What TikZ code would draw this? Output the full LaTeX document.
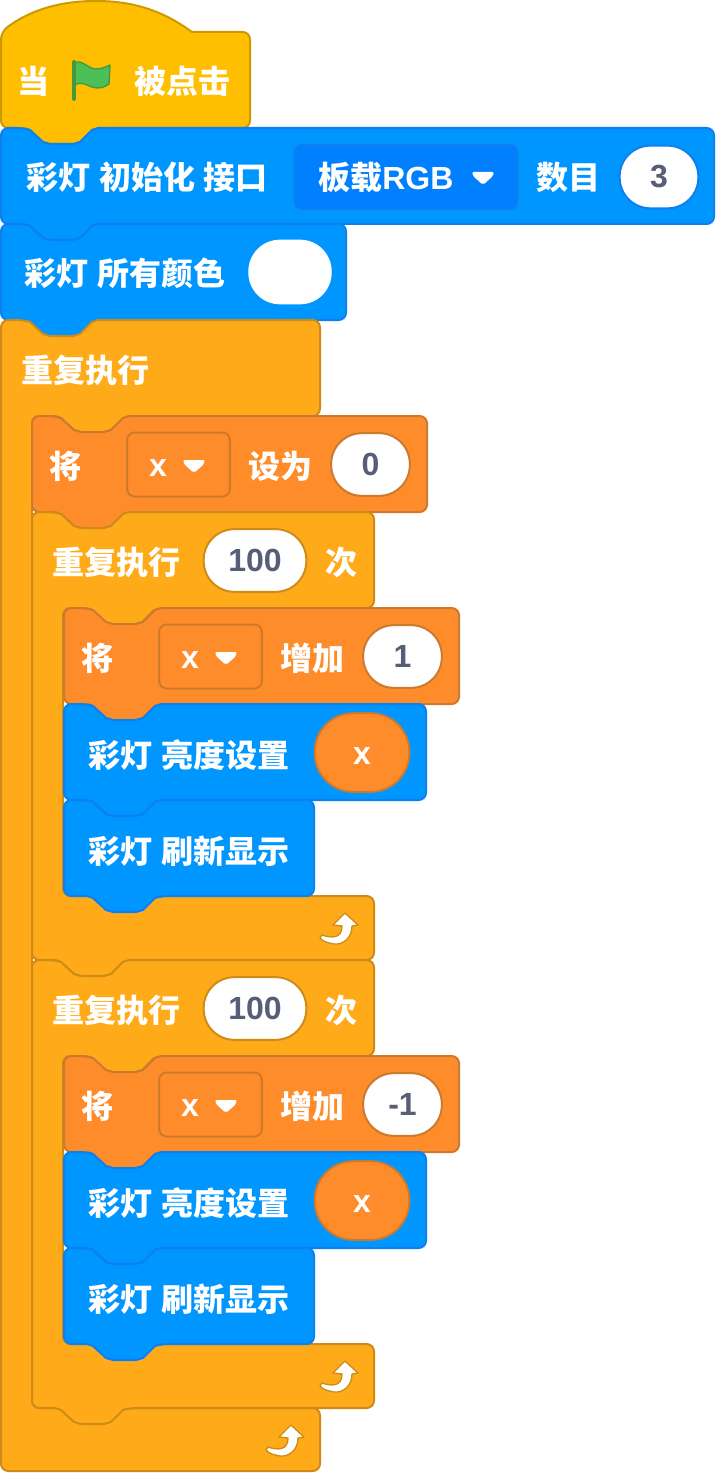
\documentclass[tikz,border=0pt]{standalone}
\usepackage{fontspec}
\usepackage{xcolor}
\setmainfont{Liberation Sans}
\newfontfamily\cjkfont{Noto Sans CJK SC}[WordSpace=1.2]
\newcommand{\lat}[1]{{\rmfamily #1}}
\definecolor{hatfill}{HTML}{FFBF00}
\definecolor{hatline}{HTML}{CC9900}
\definecolor{ledfill}{HTML}{0096FF}
\definecolor{ledline}{HTML}{0E7FEE}
\definecolor{ledmenu}{HTML}{0080FF}
\definecolor{varfill}{HTML}{FF8C2B}
\definecolor{varline}{HTML}{CC7A2E}
\definecolor{loopfill}{HTML}{FFAB19}
\definecolor{loopline}{HTML}{CF8B17}
\definecolor{numtext}{HTML}{575E75}
\definecolor{flagfill}{HTML}{4CBF56}
\definecolor{flagline}{HTML}{45993D}
\tikzset{
    blockshape/.style={line width=1.5pt, rounded corners=5.5pt},
    hatblock/.style={blockshape, fill=hatfill, draw=hatline},
    ledblock/.style={blockshape, fill=ledfill, draw=ledline},
    varblock/.style={blockshape, fill=varfill, draw=varline},
    loopblock/.style={blockshape, fill=loopfill, draw=loopline},
    label/.style={anchor=base west, inner sep=0pt, text=white, font=\fontsize{24}{28}\selectfont\bfseries\cjkfont},
    letter/.style={anchor=base, inner sep=0pt, text=white, font=\fontsize{24}{28}\selectfont\bfseries},
    pill/.style={draw, fill=white, line width=1.5pt, inner sep=0pt, text=numtext, minimum width=59pt, minimum height=47pt, rounded corners=23pt, font=\fontsize{24}{28}\selectfont\bfseries},
    reporter/.style={pill, draw=varline, fill=varfill, text=white, minimum width=71pt, minimum height=59pt, rounded corners=29pt},
    varmenu/.style={draw=varline, line width=1.5pt, fill=varfill, inner sep=0pt, minimum width=77pt, minimum height=48pt, rounded corners=5.5pt},
}
% top edge of a block with the notch cut in
\newcommand{\notchedge}[3]{(#1,#2) -- (#1+23,#2) [sharp corners] -- (#1+29,#2+2) -- (#1+42,#2+14) -- (#1+49,#2+16) -- (#1+72,#2+16) -- (#1+79,#2+14) -- (#1+91,#2+2) -- (#1+97,#2) [rounded corners=5.5pt] -- (#3,#2)}
% bottom edge of a block with the tab sticking out
\newcommand{\tabedge}[3]{(#3,#2) -- (#1+97,#2) [sharp corners] -- (#1+91,#2+2) -- (#1+79,#2+14) -- (#1+72,#2+16) -- (#1+49,#2+16) -- (#1+42,#2+14) -- (#1+29,#2+2) -- (#1+23,#2) [rounded corners=5.5pt] -- (#1,#2)}
% style, left, top, right, bottom
\newcommand{\stackblock}[5]{\draw[#1] \notchedge{#2}{#3}{#4} -- \tabedge{#2}{#5}{#4} -- cycle;}
% left, top, right, bottom arm top, end of the outline
\newcommand{\repeatblock}[5]{\draw[loopblock] \notchedge{#1}{#2}{#3} -- \tabedge{#1+31}{#2+96}{#3} -- (#1+31,#4) -- (#3,#4) -- #5 -- cycle;}
\newcommand{\menumark}[2]{\fill[white, rounded corners=1.5pt] (#1-11,#2-6) -- (#1+11,#2-6) -- (#1+10,#2-2) -- (#1,#2+7) -- (#1-10,#2-2) -- cycle;}
\newcommand{\turnmark}[2]{\draw[fill=white, draw=loopline, line width=1pt, line join=round] (#1,#2) -- (#1+13,#2+12) -- (#1+7,#2+13) .. controls (#1+7,#2+25) and (#1-2,#2+32) .. (#1-11,#2+31) .. controls (#1-16,#2+30) and (#1-22,#2+29) .. (#1-25,#2+25) -- (#1-23,#2+22) .. controls (#1-14,#2+25) and (#1-3,#2+26) .. (#1-3,#2+13) -- (#1-12,#2+12) -- cycle;}

\begin{document}
\begin{tikzpicture}[x=0.75pt, y=-0.75pt]
    \useasboundingbox (0,0) rectangle (715,1473);

    % hat block
    \draw[hatblock, sharp corners] (1,32) .. controls (30,10) and (60,1) .. (96,1) .. controls (132,1) and (162,10) .. (192,32) [rounded corners=5.5pt] -- (250,32) -- \tabedge{1}{128}{250} -- cycle;
    \node[label] at (17,94) (whenlabel) {当};
    \draw[fill=flagfill, draw=flagline, line width=1pt, line join=round] (75,62) .. controls (82,60) and (88,68) .. (95,69) .. controls (101,69) and (106,67) .. (110,65) -- (109,84) .. controls (104,88) and (98,89) .. (92,87) .. controls (86,85) and (81,81) .. (75,85) -- cycle;
    \draw[flagline, line width=3pt, line cap=round] (74,62) -- (74,99);
    \node[label] at (134,94) (clickedlabel) {被点击};

    % init and colour
    \stackblock{ledblock}{1}{128}{714}{224}
    \node[label] at (26,190) (initlabel) {彩灯 初始化 接口};
    \node[draw=ledline, fill=ledmenu, line width=1.5pt, inner sep=0pt, minimum width=167pt, minimum height=48pt, rounded corners=5.5pt] at (406,177) (portmenu) {};
    \node[label] at (318,190) (portlabel) {板载\lat{RGB}};
    \menumark{483}{178}
    \node[label] at (536,190) (countlabel) {数目};
    \node[pill, draw=ledline] at (659,177) (countinput) {3};

    \stackblock{ledblock}{1}{224}{346}{320}
    \node[label] at (24,286) (colorlabel) {彩灯 所有颜色};
    \node[pill, draw=white, minimum width=61pt] at (290,272) (colorinput) {};

    % forever
    \repeatblock{1}{320}{320}{1408}{(320,1471) -- (1,1471)}
    \node[label] at (21,382) (foreverlabel) {重复执行};
    \turnmark{291}{1425}

    % set x
    \stackblock{varblock}{32}{416}{427}{512}
    \node[label] at (49,478) (setlabel) {将};
    \node[varmenu] at (178.5,464.5) (setmenu) {};
    \node[letter] at (158,476) (setvar) {x};
    \menumark{194}{466}
    \node[label] at (248,478) (settolabel) {设为};
    \node[pill, draw=varline] at (370.5,464.5) (setinput) {0};

    % first repeat
    \repeatblock{32}{512}{374}{896}{\tabedge{32}{960}{374}}
    \node[label] at (52,574) (uplabel) {重复执行};
    \node[pill, draw=loopline, minimum width=77pt] at (255,560.5) (upinput) {100};
    \node[label] at (325,574) (uptimes) {次};
    \turnmark{345}{913}

    \stackblock{varblock}{64}{608}{459}{704}
    \node[label] at (81,670) (uplead) {将};
    \node[varmenu] at (210.5,656.5) (upmenu) {};
    \node[letter] at (190,668) (upvar) {x};
    \menumark{226}{658}
    \node[label] at (280,670) (upchange) {增加};
    \node[pill, draw=varline] at (402.5,656.5) (upstep) {1};

    \stackblock{ledblock}{64}{704}{426}{800}
    \node[label] at (88,767) (uplight) {彩灯 亮度设置};
    \node[reporter] at (362,752.5) (upvalue) {};
    \node[letter] at (362,764) (upvaluetext) {x};

    \stackblock{ledblock}{64}{800}{314}{896}
    \node[label] at (88,863) (upshow) {彩灯 刷新显示};

    % second repeat
    \repeatblock{32}{960}{374}{1344}{\tabedge{32}{1408}{374}}
    \node[label] at (52,1022) (downlabel) {重复执行};
    \node[pill, draw=loopline, minimum width=77pt] at (255,1008.5) (downinput) {100};
    \node[label] at (325,1022) (downtimes) {次};
    \turnmark{345}{1361}

    \stackblock{varblock}{64}{1056}{459}{1152}
    \node[label] at (81,1118) (downlead) {将};
    \node[varmenu] at (210.5,1104.5) (downmenu) {};
    \node[letter] at (190,1116) (downvar) {x};
    \menumark{226}{1106}
    \node[label] at (280,1118) (downchange) {增加};
    \node[pill, draw=varline] at (402.5,1104.5) (downstep) {-1};

    \stackblock{ledblock}{64}{1152}{426}{1248}
    \node[label] at (88,1215) (downlight) {彩灯 亮度设置};
    \node[reporter] at (362,1200.5) (downvalue) {};
    \node[letter] at (362,1212) (downvaluetext) {x};

    \stackblock{ledblock}{64}{1248}{314}{1344}
    \node[label] at (88,1311) (downshow) {彩灯 刷新显示};
\end{tikzpicture}
\end{document}
